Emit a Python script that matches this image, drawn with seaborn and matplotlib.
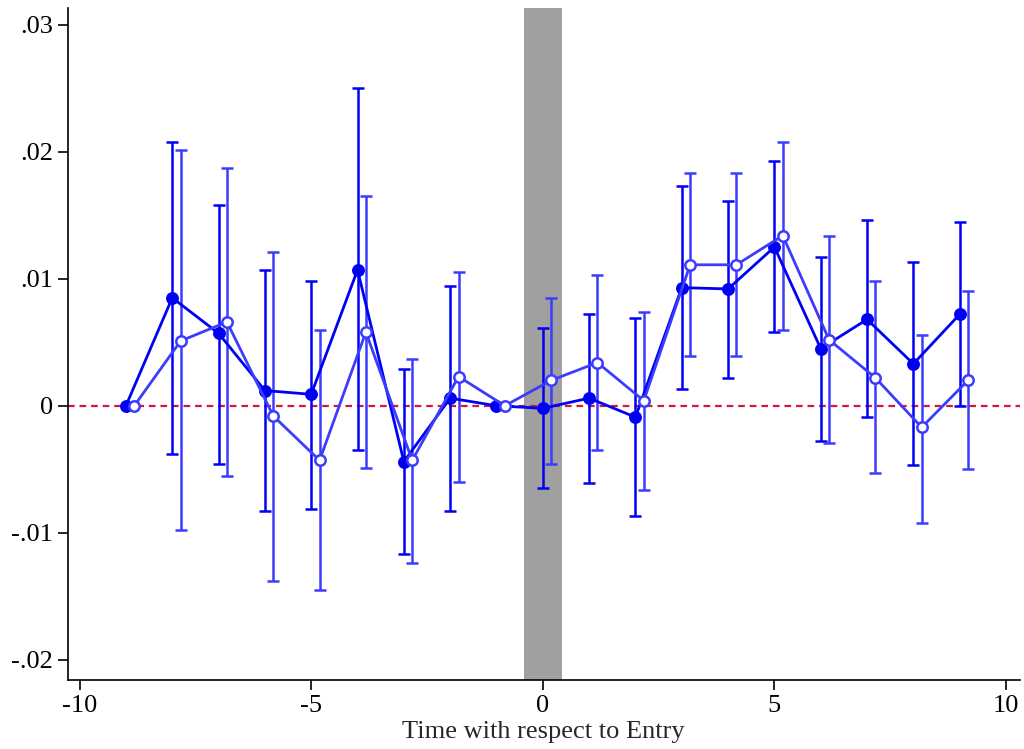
import matplotlib
matplotlib.use("Agg")
import matplotlib.pyplot as plt
import numpy as np
import pandas as pd
import seaborn as sns

# event time
periods = list(range(-9, 10))

# filled series (baseline estimates)
coef_a = [0.0, 0.0085, 0.0057, 0.0012, 0.0009, 0.0107, -0.0044, 0.0006, 0.0,
          -0.0002, 0.0006, -0.0009, 0.0093, 0.0092, 0.0125, 0.0045, 0.0068, 0.0033, 0.0072]
hi_a = [0.0, 0.0208, 0.0158, 0.0107, 0.0098, 0.0250, 0.0029, 0.0094, 0.0,
        0.0061, 0.0072, 0.0069, 0.0173, 0.0161, 0.0193, 0.0117, 0.0146, 0.0113, 0.0145]
lo_a = [0.0, -0.0038, -0.0046, -0.0083, -0.0081, -0.0035, -0.0117, -0.0083, 0.0,
        -0.0065, -0.0061, -0.0087, 0.0013, 0.0022, 0.0058, -0.0028, -0.0009, -0.0047, 0.0000]

# hollow series (alternative estimates)
coef_b = [0.0, 0.0051, 0.0066, -0.0008, -0.0043, 0.0058, -0.0043, 0.0023, 0.0,
          0.0020, 0.0034, 0.0004, 0.0111, 0.0111, 0.0134, 0.0052, 0.0022, -0.0017, 0.0020]
hi_b = [0.0, 0.0201, 0.0187, 0.0121, 0.0060, 0.0165, 0.0037, 0.0105, 0.0,
        0.0085, 0.0103, 0.0074, 0.0183, 0.0183, 0.0208, 0.0134, 0.0098, 0.0056, 0.0090]
lo_b = [0.0, -0.0098, -0.0055, -0.0138, -0.0145, -0.0049, -0.0124, -0.0060, 0.0,
        -0.0046, -0.0035, -0.0066, 0.0039, 0.0039, 0.0060, -0.0029, -0.0053, -0.0092, -0.0050]

offset_b = 0.18
yticks = [-0.02, -0.01, 0, 0.01, 0.02, 0.03]
ytick_labels = ["-.02", "-.01", "0", ".01", ".02", ".03"]
xticks = [-10, -5, 0, 5, 10]

col_a = "#0000f5"
col_b = "#3c3cff"

sns.set_style("ticks")
plt.rcParams["font.family"] = ["Liberation Serif", "DejaVu Serif"]

df_a = pd.DataFrame({"t": periods, "coef": coef_a, "lo": lo_a, "hi": hi_a})
df_b = pd.DataFrame({"t": np.array(periods) + offset_b, "coef": coef_b, "lo": lo_b, "hi": hi_b})

fig, ax = plt.subplots(figsize=(10.24, 7.49), dpi=100)
fig.subplots_adjust(left=0.066, right=0.996, bottom=0.092, top=0.989)

# shaded entry period
ax.axvspan(-0.4, 0.42, color="#a0a0a0", lw=0, zorder=0)
ax.axhline(0, color="#d6163b", ls=(0, (3, 2.2)), lw=1.6, zorder=1)

for df, col, mfc in [(df_a, col_a, col_a), (df_b, col_b, "white")]:
    ci = df[df["hi"] != df["lo"]]
    ax.errorbar(ci["t"], ci["coef"],
                yerr=[ci["coef"] - ci["lo"], ci["hi"] - ci["coef"]],
                fmt="none", ecolor=col, elinewidth=1.8, capsize=4, capthick=1.8, zorder=2)
    sns.lineplot(data=df, x="t", y="coef", ax=ax, color=col, lw=2, marker="o",
                 markersize=7.5, markerfacecolor=mfc, markeredgecolor=col,
                 markeredgewidth=1.8, zorder=3)

ax.set_xlim(-10.26, 10.3)
ax.set_ylim(-0.0216, 0.0313)
ax.set_xticks(xticks)
ax.set_xticklabels([str(v) for v in xticks])
ax.set_yticks(yticks)
ax.set_yticklabels(ytick_labels)
ax.tick_params(axis="both", labelsize=19, length=7, width=1.2, colors="black")
ax.set_xlabel("Time with respect to Entry", fontsize=19, labelpad=3)
ax.set_ylabel("")
sns.despine(ax=ax)
for s in ["left", "bottom"]:
    ax.spines[s].set_linewidth(1.2)
    ax.spines[s].set_color("black")

fig.savefig("out.png", dpi=100)
